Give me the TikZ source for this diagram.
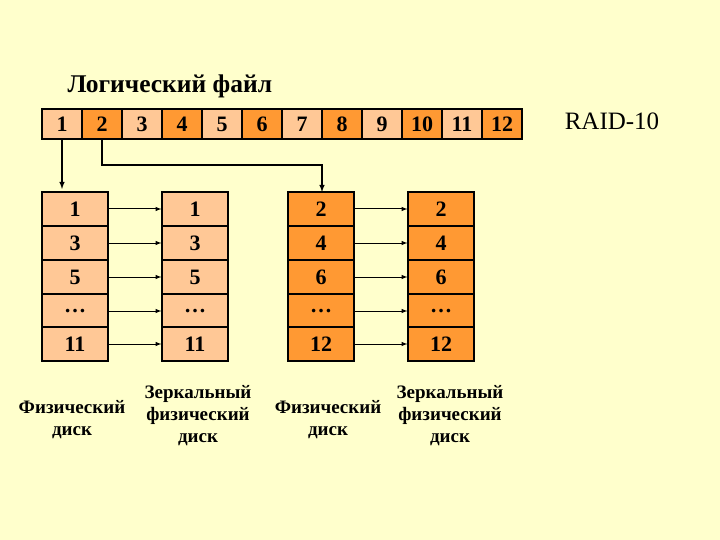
\documentclass[tikz,border=0pt]{standalone}
\usepackage{fontspec}
\setmainfont{Liberation Serif}
\definecolor{bg}{HTML}{FFFFCC}
\definecolor{lt}{HTML}{FFC896}
\definecolor{dk}{HTML}{FF9933}
\begin{document}
\begin{tikzpicture}[x=1pt,y=-1pt,
 cell/.style={draw=black,line width=1.2pt,minimum width=40pt,minimum height=30pt,inner sep=0pt,font=\fontsize{22}{22}\selectfont\bfseries},
 dcell/.style={draw=black,line width=1.2pt,minimum width=66pt,minimum height=34pt,inner sep=0pt,font=\fontsize{22}{22}\selectfont\bfseries},
 lab/.style={align=center,font=\fontsize{19}{22}\selectfont\bfseries},
 arr/.style={-latex,line width=1pt}]
\fill[bg] (0,0) rectangle (720,540);
\useasboundingbox (0,0) rectangle (720,540);
\node[anchor=west,font=\fontsize{25.5}{26}\selectfont\bfseries] (title) at (64,86) {Логический файл};
\foreach \i in {1,...,12}{
  \pgfmathsetmacro\xx{22+40*\i}
  \ifodd\i \def\cc{lt}\else\def\cc{dk}\fi
  \node[cell,fill=\cc] (c\i) at (\xx,124) {\i};
}
\node[font=\fontsize{25}{25}\selectfont] (raid) at (612,121) {RAID-10};
\foreach \d/\x/\cc/\a/\b/\c/\e in {1/75/lt/1/3/5/11, 2/195/lt/1/3/5/11, 3/321/dk/2/4/6/12, 4/441/dk/2/4/6/12}{
  \node[dcell,fill=\cc] (d\d r1) at (\x,209) {\a};
  \node[dcell,fill=\cc] (d\d r2) at (\x,243) {\b};
  \node[dcell,fill=\cc] (d\d r3) at (\x,277) {\c};
  \node[dcell,fill=\cc] (d\d r4) at (\x,311) {\dots};
  \node[dcell,fill=\cc] (d\d r5) at (\x,344) {\e};
}
\foreach \r in {1,...,5}{
  \draw[arr] (d1r\r.east) -- (d2r\r.west);
  \draw[arr] (d3r\r.east) -- (d4r\r.west);
}
\draw[arr,line width=1.4pt] (c1.south) -- (c1.south |- 0,189);
\draw[arr,line width=1.4pt] (c2.south) |- (322,165) -- (322,192);
\node[lab] (l1) at (72,420) {Физический\\диск};
\node[lab] (l2) at (198,416) {Зеркальный\\физический\\диск};
\node[lab] (l3) at (328,420) {Физический\\диск};
\node[lab] (l4) at (450,416) {Зеркальный\\физический\\диск};
\end{tikzpicture}
\end{document}
